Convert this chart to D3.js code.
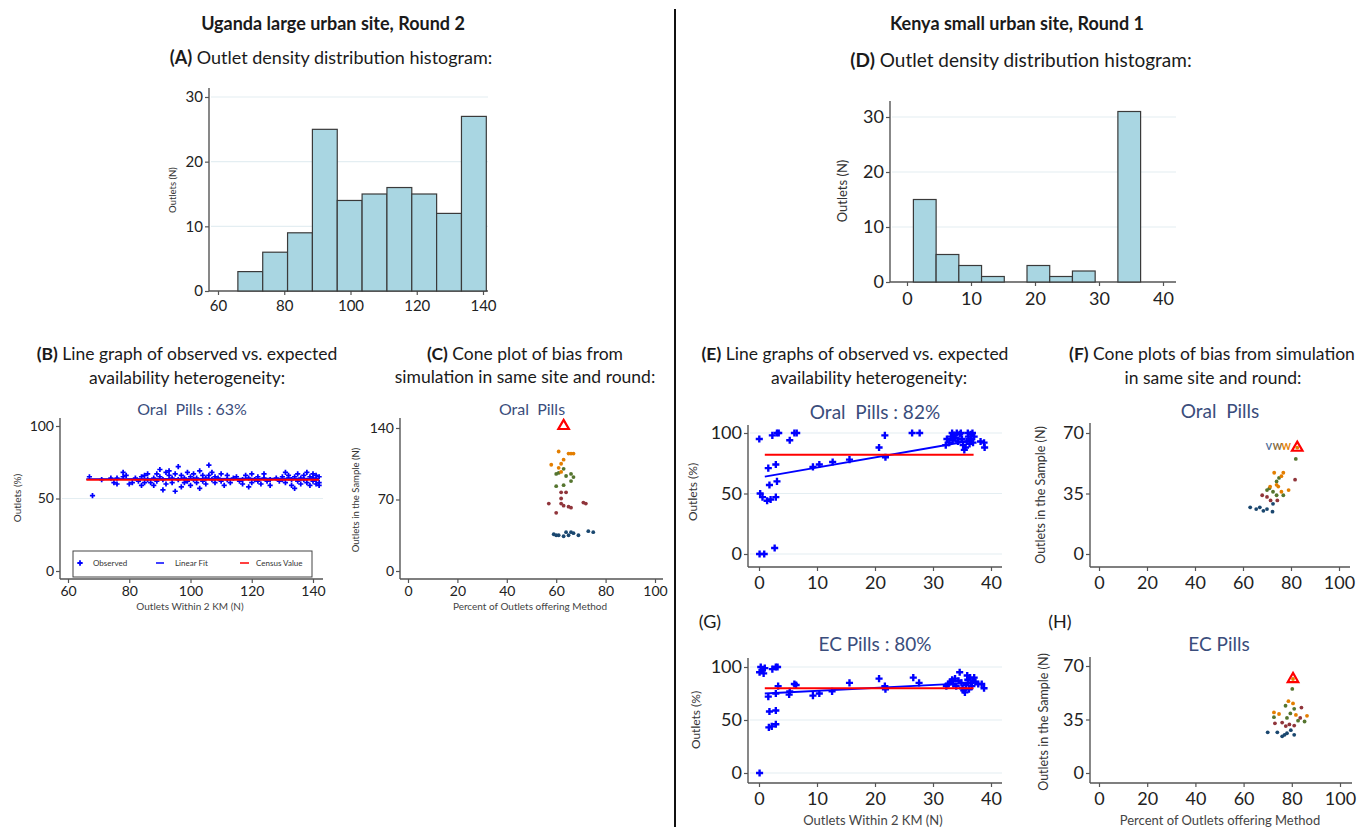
<!DOCTYPE html>
<html>
<head>
<meta charset="utf-8">
<script src="https://cdn.jsdelivr.net/npm/d3@7"></script>
<style>
	body { margin: 0; background: #fff; }
	text { font-family: Lato, "Open Sans", sans-serif; }
</style>
</head>
<body>
<svg id="fig" width="1369" height="827"></svg>
<script>
	//  histogram (A), Uganda
	var histA_edges = [66, 73.5, 81, 88.5, 96, 103.5, 111, 118.5, 126, 133.5, 141];
	var histA_counts = [3, 6, 9, 25, 14, 15, 16, 15, 12, 27];
	//  histogram (D), Kenya
	var histD_edges = [1, 4.55, 8.1, 11.65, 15.2, 18.75, 22.3, 25.85, 29.4, 32.95, 36.5];
	var histD_counts = [15, 5, 3, 1, 0, 3, 1, 2, 0, 31];

	//  (B) observed availability vs outlets within 2 km
	var obsB = [[67,65],[68,52],[71,63],[74,64],[75,61],[76,60],[76,64],[78,68],[78,65],[79,66],[80,60],[81,61],
		[82,64],[83,62],[84,65],[84,59],[85,66],[85,61],[86,67],[86,63],[87,61],[88,64],[88,59],[89,67],[89,62],
		[90,70],[90,65],[91,56],[91,63],[92,68],[92,60],[93,69],[93,66],[94,61],[94,64],[95,55],[95,67],[96,72],
		[96,63],[97,58],[97,66],[98,64],[98,61],[99,68],[99,62],[100,65],[100,59],[101,63],[101,67],[102,61],
		[102,64],[103,69],[103,57],[104,66],[104,62],[105,64],[105,60],[106,73],[106,66],[107,63],[107,68],
		[108,61],[108,65],[109,64],[110,62],[110,67],[111,59],[112,63],[112,66],[113,61],[114,64],[115,65],
		[116,62],[117,63],[117,60],[118,66],[119,64],[119,58],[120,67],[120,61],[121,63],[122,65],[122,62],
		[123,60],[124,64],[124,67],[125,62],[126,63],[126,59],[128,64],[129,62],[130,65],[130,63],[131,68],
		[131,61],[132,66],[132,64],[133,59],[133,63],[134,57],[134,65],[135,62],[135,67],[136,64],[136,60],
		[137,66],[137,63],[138,68],[138,61],[139,65],[139,59],[140,67],[140,62],[140,64],[141,66],[141,60],
		[141,63],[142,65],[142,61],[142,59]];
	var fitB = [[66, 63.4], [142, 63.7]];
	var censusB = [[66, 63], [142, 63]];

	//  (C) cone plot, Oral Pills, Uganda
	var coneC_navy = [[59,36],[60,35],[61,35],[63,34],[64,38],[65,35],[66,38],[67,37],[69,35],[73,39],[75,38]];
	var coneC_maroon = [[62,77],[64,77],[57,66],[62,71],[62,66],[63,64],[65,63],[66,62],[71,67],[72,66],[60,57]];
	var coneC_green = [[63,100],[60,95],[61,96],[64,93],[66,95],[67,92],[66,88],[60,83],[63,84]];
	var coneC_orange = [[61,117],[65,115],[66,115],[67,115],[63,109],[62,105],[58,104],[61,101],[62,97]];
	var censusC = [63, 142];

	//  (E) observed availability, Oral Pills, Kenya
	var obsE = [[0.05,95],[0.1,0],[0.9,0],[0.2,50],[0.6,47],[1.4,44],[2.0,45],[2.9,47],[1.6,71],[1.8,57],
		[3.1,60],[2.9,74],[2.3,98],[3.1,100],[3.4,100],[2.7,5],[5.3,94],[6.1,100],[6.5,100],[9.3,72],
		[10.4,74],[12.7,76],[15.6,78],[20.7,88],[21.7,98],[21.8,80],[26.4,100],[27.7,100],
		[32.2,90],[32.4,95],[32.8,92],[33.1,97],[33.3,100],[33.4,94],[33.6,98],[33.9,96],[34.1,100],
		[34.3,93],[34.6,99],[34.8,100],[35.0,95],[35.2,90],[35.4,86],[35.6,88],[35.8,93],[36.0,100],
		[36.1,97],[36.3,91],[36.5,99],[36.6,95],[36.8,100],[36.9,92],[37.1,97],[38.2,93],[38.8,92],[38.9,88]];
	var fitE = [[1, 64], [37, 94]];
	var censusE = [[1, 82], [37, 82]];

	//  (F) cone plot, Oral Pills, Kenya
	var coneF_navy = [[63,27],[65.5,26],[67,27],[68.5,25],[70,26],[72.5,29],[72.3,24.5]];
	var coneF_maroon = [[68,34],[70,33],[71.5,31],[74.3,31],[81.7,43]];
	var coneF_green = [[70,37],[72.5,36],[74,34],[76.8,34],[74,42],[75,44],[71,38],[82,55]];
	var coneF_orange = [[73,47],[76.8,47],[76,45],[74.7,39],[71.3,39],[79,37],[76,36],[74,40],[82.6,61.5]];
	var censusF = [82.6, 61.5];
	var labelF_text = ["V", "W", "W"];
	var labelF_x = [70.8, 74.4, 78.0];
	var labelF_y = 62.3;

	//  (G) observed availability, EC Pills, Kenya
	var obsG = [[0.1,0],[0.1,95],[0.3,100],[0.6,97],[0.8,94],[1.0,99],[1.6,72],[1.8,58],[2.9,59],[1.7,43],
		[2.2,44],[2.9,46],[2.3,98],[2.9,100],[3.2,100],[2.9,75],[3.3,82],[5.2,74],[5.3,77],[6.1,84],[6.4,83],
		[9.3,73],[10.4,75],[12.6,77],[15.6,85],[20.7,89],[21.8,79],[21.7,82],[26.6,90],[27.6,85],
		[32.3,82],[32.6,84],[33.0,86],[33.3,88],[33.5,84],[33.8,89],[34.0,82],[34.4,87],[34.6,95],[34.9,85],
		[35.1,80],[35.3,78],[35.5,76],[35.7,83],[35.9,92],[36.0,88],[36.2,79],[36.4,90],[36.5,85],[36.7,82],
		[36.9,87],[37.1,90],[37.3,86],[37.8,84],[38.4,84],[38.8,80]];
	var fitG = [[1, 75], [37, 85]];
	var censusG = [[1, 80], [37, 80]];

	//  (H) cone plot, EC Pills, Kenya
	var coneH_navy = [[70,26.6],[74,26.6],[76,24],[77,25],[78,26],[79.6,28],[81,25]];
	var coneH_maroon = [[73,32.5],[76,33],[77.5,30.7],[79,31.8],[81,31],[83.5,36],[84,42.8]];
	var coneH_green = [[80.2,55],[77.4,44],[81,42],[72.6,36.5],[78,36],[82.6,34.2],[85.3,33.7],[79.4,39]];
	var coneH_orange = [[78.6,47],[80.5,45.5],[72.6,39.6],[74.7,38.6],[81.7,38],[86.3,37.4],[80.5,61.5]];
	var censusH = [80.5, 61.5];

	var colors = {
		navy: "#1a476f", maroon: "#90353b", green: "#55752f", orange: "#e37e00",
		title: "#3a4d7c", axis: "#555", grid: "#e4eef2", bar: "#a9d6e2", blue: "#0000ff", red: "#ff0000"
	};

	var svg = d3.select("#fig");

	//  builds scales + axes for one panel
	function makePanel(p) {
		var g = svg.append("g");
		var x = d3.scaleLinear().domain(p.xDomain).range(p.xRange);
		var y = d3.scaleLinear().domain(p.yDomain).range(p.yRange);
		//  grid
		g.selectAll(".grid")
			.data(p.grid)
			.enter().append("line")
			.attr("x1", p.yAxisX + 2).attr("x2", p.xAxisEnd)
			.attr("y1", function(d) { return y(d); })
			.attr("y2", function(d) { return y(d); })
			.attr("stroke", colors.grid).attr("stroke-width", 1.2);
		//  axis lines
		g.append("line")
			.attr("x1", p.yAxisX).attr("x2", p.yAxisX)
			.attr("y1", p.yAxisTop).attr("y2", p.xAxisY)
			.attr("stroke", colors.axis).attr("stroke-width", 1.4);
		g.append("line")
			.attr("x1", p.yAxisX).attr("x2", p.xAxisEnd)
			.attr("y1", p.xAxisY).attr("y2", p.xAxisY)
			.attr("stroke", colors.axis).attr("stroke-width", 1.4);
		var ax = g.append("g")
			.attr("transform", "translate(0," + p.xAxisY + ")")
			.call(d3.axisBottom(x).tickValues(p.xTicks).tickSize(4).tickPadding(p.xPad));
		var ay = g.append("g")
			.attr("transform", "translate(" + p.yAxisX + ",0)")
			.call(d3.axisLeft(y).tickValues(p.yTicks).tickSize(4).tickPadding(2));
		[ax, ay].forEach(function(a) {
			a.select(".domain").remove();
			a.selectAll("line").attr("stroke", colors.axis).attr("stroke-width", 1.2);
			a.selectAll("text")
				.style("font-family", "Lato, sans-serif")
				.style("font-size", p.tickFont + "px")
				.attr("fill", "#222");
		});
		//  axis titles
		g.append("text")
			.attr("transform", "translate(" + p.yTitle[0] + "," + p.yTitle[1] + ") rotate(-90)")
			.attr("text-anchor", "middle").attr("dominant-baseline", "central")
			.style("font-size", p.yTitle[2] + "px").attr("fill", "#333")
			.text(p.yTitleText);
		if (p.xTitleText) {
			g.append("text")
				.attr("x", p.xTitle[0]).attr("y", p.xTitle[1])
				.attr("text-anchor", "middle").attr("dominant-baseline", "central")
				.style("font-size", p.xTitle[2] + "px").attr("fill", "#444")
				.text(p.xTitleText);
		}
		if (p.title) {
			g.append("text")
				.attr("x", p.titlePos[0]).attr("y", p.titlePos[1])
				.attr("text-anchor", "middle").attr("dominant-baseline", "central")
				.style("font-size", p.titlePos[2] + "px").style("white-space", "pre")
				.attr("fill", colors.title)
				.text(p.title);
		}
		return {g: g, x: x, y: y};
	}

	function drawHist(panel, edges, counts) {
		var bins = counts.map(function(c, i) { return {x0: edges[i], x1: edges[i + 1], n: c}; })
			.filter(function(d) { return d.n > 0; });
		panel.g.selectAll(".bar")
			.data(bins)
			.enter().append("rect")
			.attr("x", function(d) { return panel.x(d.x0); })
			.attr("width", function(d) { return panel.x(d.x1) - panel.x(d.x0); })
			.attr("y", function(d) { return panel.y(d.n); })
			.attr("height", function(d) { return panel.y(0) - panel.y(d.n); })
			.attr("fill", colors.bar).attr("stroke", "#3a3a3a").attr("stroke-width", 1.2);
	}

	function drawScatter(panel, obs, fit, census, mSize) {
		var line = d3.line()
			.x(function(d) { return panel.x(d[0]); })
			.y(function(d) { return panel.y(d[1]); });
		panel.g.selectAll(".obs")
			.data(obs)
			.enter().append("path")
			.attr("d", d3.symbol(d3.symbolCross, mSize))
			.attr("transform", function(d) { return "translate(" + panel.x(d[0]) + "," + panel.y(d[1]) + ")"; })
			.attr("fill", colors.blue);
		panel.g.append("path").datum(fit).attr("d", line)
			.attr("fill", "none").attr("stroke", colors.blue).attr("stroke-width", 1.8);
		panel.g.append("path").datum(census).attr("d", line)
			.attr("fill", "none").attr("stroke", colors.red).attr("stroke-width", 2);
	}

	function drawCone(panel, groups, census) {
		groups.forEach(function(grp) {
			panel.g.selectAll(null)
				.data(grp.pts)
				.enter().append("circle")
				.attr("cx", function(d) { return panel.x(d[0]); })
				.attr("cy", function(d) { return panel.y(d[1]); })
				.attr("r", 1.9)
				.attr("fill", grp.color);
		});
		panel.g.append("path")
			.attr("d", d3.symbol(d3.symbolTriangle, 48))
			.attr("transform", "translate(" + panel.x(census[0]) + "," + panel.y(census[1]) + ")")
			.attr("fill", "none").attr("stroke", colors.red).attr("stroke-width", 2.2);
	}

	//  ---- headings ----
	function heading(cx, cy, bold, rest, size) {
		var t = svg.append("text")
			.attr("x", cx).attr("y", cy)
			.attr("text-anchor", "middle").attr("dominant-baseline", "central")
			.style("font-size", size + "px").attr("fill", "#1a1a1a");
		if (bold) t.append("tspan").style("font-weight", "bold").text(bold);
		t.append("tspan").text(rest);
	}
	heading(333, 23, "Uganda large urban site, Round 2", "", 18);
	heading(1017, 23, "Kenya small urban site, Round 1", "", 18);
	heading(331, 57, "(A)", " Outlet density distribution histogram:", 18);
	heading(1021, 59, "(D)", " Outlet density distribution histogram:", 19);
	heading(187, 353, "(B)", " Line graph of observed vs. expected", 17.5);
	heading(187, 377, "", "availability heterogeneity:", 17.5);
	heading(525, 353, "(C)", " Cone plot of bias from", 17.5);
	heading(525, 376, "", "simulation in same site and round:", 17.5);
	heading(855, 353, "(E)", " Line graphs of observed vs. expected", 17.5);
	heading(869, 377, "", "availability heterogeneity:", 17.5);
	heading(1212, 353, "(F)", " Cone plots of bias from simulation", 17.5);
	heading(1213, 377, "", "in same site and round:", 17.5);
	heading(710, 621, "", "(G)", 18);
	heading(1060, 621, "", "(H)", 18);

	svg.append("line")
		.attr("x1", 675).attr("x2", 675).attr("y1", 9).attr("y2", 827)
		.attr("stroke", "#111").attr("stroke-width", 2);

	//  ---- (A) ----
	var pA = makePanel({
		xDomain: [60, 140], xRange: [218, 483], yDomain: [0, 30], yRange: [291, 97],
		yAxisX: 209, xAxisY: 291, yAxisTop: 88, xAxisEnd: 488,
		xTicks: [60, 80, 100, 120, 140], yTicks: [0, 10, 20, 30], grid: [10, 20, 30],
		tickFont: 15, xPad: 5, yTitle: [172, 190, 9.5], yTitleText: "Outlets (N)"
	});
	drawHist(pA, histA_edges, histA_counts);

	//  ---- (D) ----
	var pD = makePanel({
		xDomain: [0, 40], xRange: [907, 1163], yDomain: [0, 30], yRange: [282, 117],
		yAxisX: 890, xAxisY: 282, yAxisTop: 101, xAxisEnd: 1176,
		xTicks: [0, 10, 20, 30, 40], yTicks: [0, 10, 20, 30], grid: [10, 20, 30],
		tickFont: 18, xPad: 6, yTitle: [842, 191, 13], yTitleText: "Outlets (N)"
	});
	drawHist(pD, histD_edges, histD_counts);

	//  ---- (B) ----
	var pB = makePanel({
		xDomain: [60, 140], xRange: [68, 313], yDomain: [0, 100], yRange: [571, 426],
		yAxisX: 60, xAxisY: 579, yAxisTop: 418, xAxisEnd: 323,
		xTicks: [60, 80, 100, 120, 140], yTicks: [0, 50, 100], grid: [50],
		tickFont: 14, xPad: 3, yTitle: [17, 498, 10], yTitleText: "Outlets (%)",
		xTitle: [190, 606, 10], xTitleText: "Outlets Within 2 KM (N)",
		title: "Oral  Pills : 63%", titlePos: [192, 408, 16]
	});
	drawScatter(pB, obsB, fitB, censusB, 15);
	//  legend
	var leg = pB.g.append("g");
	leg.append("rect").attr("x", 73).attr("y", 551).attr("width", 239).attr("height", 26)
		.attr("fill", "#fff").attr("stroke", "#444").attr("stroke-width", 1);
	leg.append("path").attr("d", d3.symbol(d3.symbolCross, 16))
		.attr("transform", "translate(80,563)").attr("fill", colors.blue);
	leg.append("line").attr("x1", 156).attr("x2", 164).attr("y1", 563).attr("y2", 563)
		.attr("stroke", colors.blue).attr("stroke-width", 1.5);
	leg.append("line").attr("x1", 240).attr("x2", 249).attr("y1", 563).attr("y2", 563)
		.attr("stroke", colors.red).attr("stroke-width", 1.5);
	[["Observed", 93], ["Linear Fit", 175], ["Census Value", 256]].forEach(function(l) {
		leg.append("text").attr("x", l[1]).attr("y", 563).attr("dominant-baseline", "central")
			.style("font-size", "8px").attr("fill", "#333").text(l[0]);
	});

	//  ---- (C) ----
	var pC = makePanel({
		xDomain: [0, 100], xRange: [408, 655], yDomain: [0, 140], yRange: [571, 428],
		yAxisX: 400, xAxisY: 579, yAxisTop: 418, xAxisEnd: 663,
		xTicks: [0, 20, 40, 60, 80, 100], yTicks: [0, 70, 140], grid: [],
		tickFont: 14, xPad: 3, yTitle: [355, 500, 9.5], yTitleText: "Outlets in the Sample (N)",
		xTitle: [530, 606, 10], xTitleText: "Percent of Outlets offering Method",
		title: "Oral  Pills", titlePos: [532, 408, 16]
	});
	drawCone(pC, [
		{pts: coneC_navy, color: colors.navy}, {pts: coneC_maroon, color: colors.maroon},
		{pts: coneC_green, color: colors.green}, {pts: coneC_orange, color: colors.orange}
	], censusC);

	//  ---- (E) ----
	var pE = makePanel({
		xDomain: [0, 40], xRange: [759, 991], yDomain: [0, 100], yRange: [554, 433],
		yAxisX: 748, xAxisY: 567, yAxisTop: 425, xAxisEnd: 1002,
		xTicks: [0, 10, 20, 30, 40], yTicks: [0, 50, 100], grid: [0, 50, 100],
		tickFont: 18, xPad: 5, yTitle: [692, 492, 12], yTitleText: "Outlets (%)",
		title: "Oral  Pills : 82%", titlePos: [875, 411, 19]
	});
	drawScatter(pE, obsE, fitE, censusE, 28);

	//  ---- (F) ----
	var pF = makePanel({
		xDomain: [0, 100], xRange: [1099, 1339], yDomain: [0, 70], yRange: [554, 433],
		yAxisX: 1090, xAxisY: 567, yAxisTop: 423, xAxisEnd: 1350,
		xTicks: [0, 20, 40, 60, 80, 100], yTicks: [0, 35, 70], grid: [],
		tickFont: 18, xPad: 5, yTitle: [1040, 495, 12.5], yTitleText: "Outlets in the Sample (N)",
		title: "Oral  Pills", titlePos: [1220, 410, 19]
	});
	drawCone(pF, [
		{pts: coneF_navy, color: colors.navy}, {pts: coneF_maroon, color: colors.maroon},
		{pts: coneF_green, color: colors.green}, {pts: coneF_orange, color: colors.orange}
	], censusF);
	var labelColors = ["#4f6d9a", "#8a6a3a", colors.orange];
	pF.g.selectAll(".lbl")
		.data(labelF_text)
		.enter().append("text")
		.attr("x", function(d, i) { return pF.x(labelF_x[i]); })
		.attr("y", pF.y(labelF_y))
		.attr("text-anchor", "middle").attr("dominant-baseline", "central")
		.style("font-size", "9px").style("font-weight", "bold")
		.attr("fill", function(d, i) { return labelColors[i]; })
		.text(function(d) { return d; });

	//  ---- (G) ----
	var pG = makePanel({
		xDomain: [0, 40], xRange: [759, 991], yDomain: [0, 100], yRange: [773, 667],
		yAxisX: 748, xAxisY: 783, yAxisTop: 658, xAxisEnd: 1002,
		xTicks: [0, 10, 20, 30, 40], yTicks: [0, 50, 100], grid: [0, 50, 100],
		tickFont: 18, xPad: 5, yTitle: [695, 720, 12], yTitleText: "Outlets (%)",
		xTitle: [873, 820, 13], xTitleText: "Outlets Within 2 KM (N)",
		title: "EC Pills : 80%", titlePos: [875, 643, 19]
	});
	drawScatter(pG, obsG, fitG, censusG, 28);

	//  ---- (H) ----
	var pH = makePanel({
		xDomain: [0, 100], xRange: [1099, 1340], yDomain: [0, 70], yRange: [773, 666],
		yAxisX: 1090, xAxisY: 783, yAxisTop: 657, xAxisEnd: 1352,
		xTicks: [0, 20, 40, 60, 80, 100], yTicks: [0, 35, 70], grid: [],
		tickFont: 18, xPad: 5, yTitle: [1043, 722, 12.5], yTitleText: "Outlets in the Sample (N)",
		xTitle: [1220, 820, 13], xTitleText: "Percent of Outlets offering Method",
		title: "EC Pills", titlePos: [1219, 643, 19]
	});
	drawCone(pH, [
		{pts: coneH_navy, color: colors.navy}, {pts: coneH_maroon, color: colors.maroon},
		{pts: coneH_green, color: colors.green}, {pts: coneH_orange, color: colors.orange}
	], censusH);
</script>
</body>
</html>
